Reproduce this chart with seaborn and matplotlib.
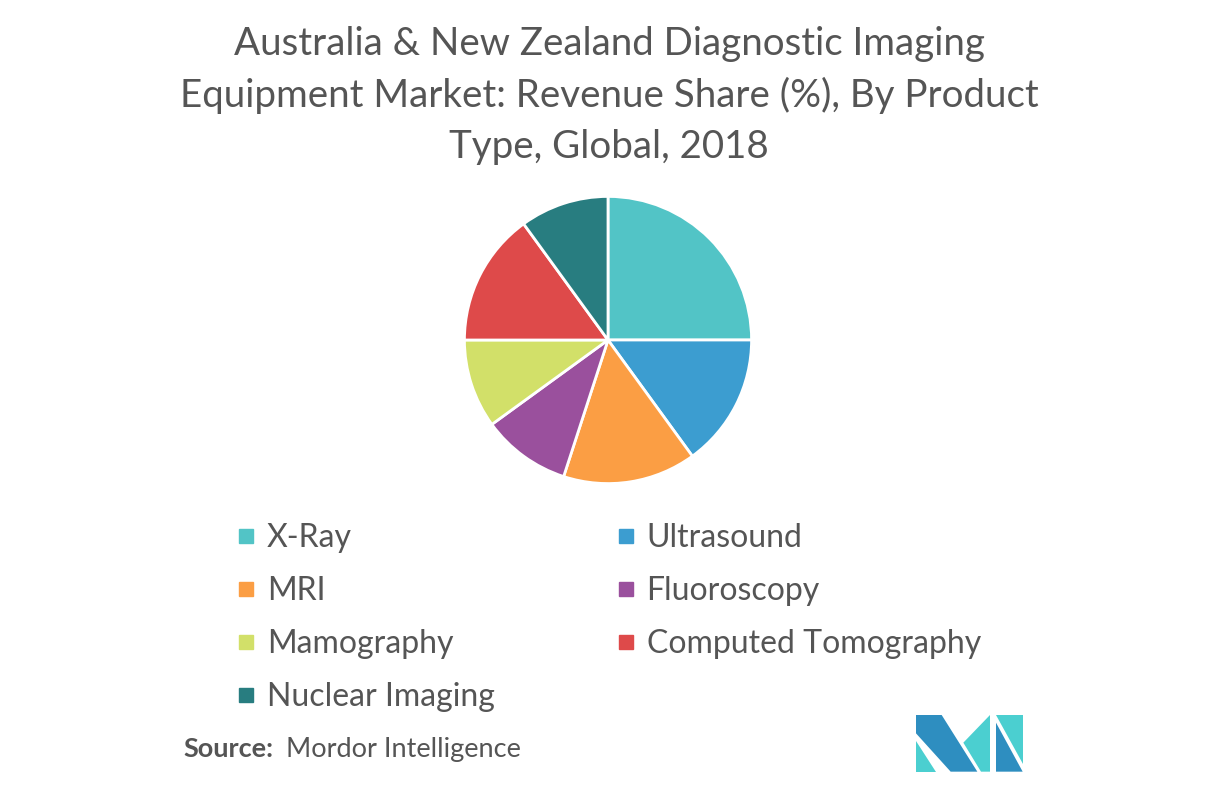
import matplotlib
matplotlib.use("Agg")
import matplotlib.pyplot as plt
import seaborn as sns
from matplotlib.lines import Line2D
from matplotlib.patches import Polygon

# data (shares in %)
products = ['X-Ray', 'Ultrasound', 'MRI', 'Fluoroscopy', 'Mamography',
            'Computed Tomography', 'Nuclear Imaging']
shares = [25, 15, 15, 10, 10, 15, 10]
colors = ['#52C4C6', '#3C9DD0', '#FB9E44', '#9A509D', '#D2E069',
          '#DE4A4A', '#287D80']

TITLE = ('Australia & New Zealand Diagnostic Imaging\n'
         'Equipment Market: Revenue Share (%), By Product\n'
         'Type, Global, 2018')

sns.set_theme(style='white')
plt.rcParams['font.family'] = ['Lato', 'DejaVu Sans']
text_col = '#555555'

W, H = 1217, 785
fig = plt.figure(figsize=(W / 100, H / 100), dpi=100)
fig.patch.set_facecolor('white')

# title
fig.text(609 / W, 1 - 26 / H, TITLE, ha='center', va='top', fontsize=27.7,
         color=text_col, linespacing=1.5)

# pie
r = 145
cx, cy = 608, 340
ax = fig.add_axes([(cx - r) / W, 1 - (cy + r) / H, 2 * r / W, 2 * r / H])
wedges, _ = ax.pie(shares, colors=sns.color_palette(colors), startangle=90,
                   counterclock=False, radius=1,
                   wedgeprops=dict(edgecolor='white', linewidth=2))
ax.set_xlim(-1.01, 1.01)
ax.set_ylim(-1.01, 1.01)
ax.set_aspect('equal')
ax.axis('off')

# legend, filled column-wise so reorder to read row-wise like the original
order = [0, 2, 4, 6, 1, 3, 5]
handles = [Line2D([], [], marker='s', linestyle='none', markersize=9.5,
                  markerfacecolor=colors[i], markeredgecolor=colors[i])
           for i in order]
labels = [products[i] for i in order]
leg = fig.legend(handles, labels, loc='upper left', ncol=2,
                 bbox_to_anchor=(227 / W, 1 - 510 / H), frameon=False,
                 fontsize=23, handlelength=0.4, handletextpad=0.45,
                 labelspacing=0.72, columnspacing=3.9, borderaxespad=0)
for t in leg.get_texts():
    t.set_color(text_col)

# source
fig.text(183 / W, 1 - 749 / H, 'Source:', fontsize=19.5, fontweight='bold',
         color=text_col, va='center', ha='left')
fig.text(286 / W, 1 - 749 / H, 'Mordor Intelligence', fontsize=19.5,
         color=text_col, va='center', ha='left')

# logo
def px(pts):
    return [((900 + x / 3) / W, 1 - (700 + y / 3) / H) for x, y in pts]

dark, light = '#2E8EC0', '#4BCFD0'
logo = [
    (px([(48, 45), (125, 45), (232, 215), (152, 215), (48, 100)]), dark),
    (px([(48, 122), (48, 215), (108, 215)]), light),
    (px([(190, 128), (270, 45), (270, 215), (243, 215)]), light),
    (px([(288, 45), (368, 45), (368, 192)]), light),
    (px([(288, 68), (368, 215), (288, 215)]), dark),
]
for pts, c in logo:
    fig.patches.append(Polygon(pts, closed=True, facecolor=c, edgecolor='none',
                               transform=fig.transFigure, figure=fig))

fig.savefig('out.png', dpi=100, facecolor='white')
